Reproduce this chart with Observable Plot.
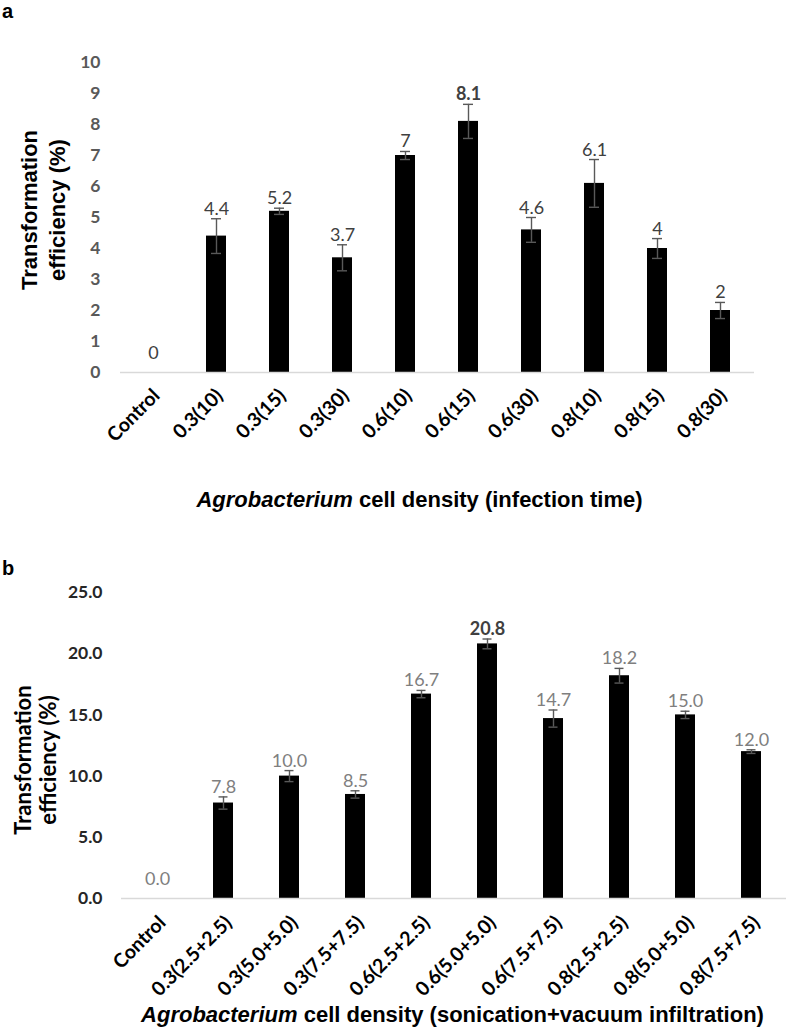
<!DOCTYPE html>
<html>
<head>
<meta charset="utf-8">
<script src="https://cdn.jsdelivr.net/npm/d3@7"></script>
<script src="https://cdn.jsdelivr.net/npm/@observablehq/plot@0.6"></script>
<style>
  body { margin: 0; background: white; }
  #wrap { position: relative; width: 787px; height: 1028px; overflow: hidden; background: white; }
  .abs { position: absolute; }
  .plabel { font-family: "Liberation Sans", Arial, sans-serif; font-weight: bold; font-size: 20px; line-height: 20px; color: black; }
  .xtitle { font-family: "Liberation Sans", Arial, sans-serif; font-weight: bold; font-size: 22px; line-height: 22px; color: black; width: 787px; text-align: center; white-space: nowrap; }
  .ytitle { font-weight: bold; color: black; width: 220px; text-align: center; white-space: nowrap; transform: rotate(-90deg); transform-origin: 50% 50%; }
</style>
</head>
<body>
<div id="wrap">
  <div id="panelA" class="abs" style="left:0;top:0"></div>
  <div id="panelB" class="abs" style="left:0;top:530px"></div>
  <div class="abs plabel" style="left:2px;top:1px">a</div>
  <div class="abs plabel" style="left:2px;top:558px">b</div>
  <div class="abs ytitle" style="left:-66px;top:182px;height:56px;font-family:'Liberation Sans',Arial,sans-serif;font-size:22px;line-height:28px">Transformation<br>efficiency (%)</div>
  <div class="abs ytitle" style="left:-75.5px;top:735px;height:50px;font-family:Lato,sans-serif;font-size:22px;line-height:25px">Transformation<br>efficiency (%)</div>
  <div class="abs xtitle" style="left:26px;top:489px"><i>Agrobacterium</i> cell density (infection time)</div>
  <div class="abs xtitle" style="left:59px;top:1004px"><i>Agrobacterium</i> cell density (sonication+vacuum infiltration)</div>
</div>
<script>
// ---- Panel a data ----
const categoriesA = ["Control","0.3(10)","0.3(15)","0.3(30)","0.6(10)","0.6(15)","0.6(30)","0.8(10)","0.8(15)","0.8(30)"];
const valuesA = [0, 4.4, 5.2, 3.7, 7, 8.1, 4.6, 6.1, 4, 2];
const errorsA = [0, 0.56, 0.1, 0.42, 0.13, 0.55, 0.4, 0.77, 0.32, 0.26];
const ticksA = [0,1,2,3,4,5,6,7,8,9,10];

// ---- Panel b data ----
const categoriesB = ["Control","0.3(2.5+2.5)","0.3(5.0+5.0)","0.3(7.5+7.5)","0.6(2.5+2.5)","0.6(5.0+5.0)","0.6(7.5+7.5)","0.8(2.5+2.5)","0.8(5.0+5.0)","0.8(7.5+7.5)"];
const valuesB = [0.0, 7.8, 10.0, 8.5, 16.7, 20.8, 14.7, 18.2, 15.0, 12.0];
const errorsB = [0, 0.5, 0.45, 0.3, 0.3, 0.4, 0.7, 0.6, 0.3, 0.15];
const ticksB = [0, 5, 10, 15, 20, 25];

function panel(o) {
  const data = o.cats.map((c, i) => ({cat: c, value: o.vals[i], err: o.errs[i]}));
  const withErr = data.filter(d => d.err > 0);
  const maxV = d3.max(o.vals);
  const numFont = "Lato, 'Open Sans', sans-serif";
  return Plot.plot({
    width: 787, height: o.height,
    marginTop: o.mt, marginBottom: o.mb, marginLeft: o.ml, marginRight: o.mr,
    style: {fontFamily: numFont, background: "transparent", overflow: "visible"},
    x: {domain: o.cats, paddingInner: o.pi, paddingOuter: o.po, label: null},
    y: {domain: o.ydomain, label: null},
    marks: [
      Plot.axisY({ticks: o.ticks, tickSize: 0, tickPadding: o.ytp, fontSize: 17.5, fontWeight: "bold",
                  fill: o.ytickColor, tickFormat: o.tickFmt, label: null, fontFamily: numFont}),
      Plot.axisX({tickSize: 0, tickRotate: -45, tickPadding: o.xtp, dx: o.xdx, fontSize: o.xfs,
                  fontWeight: "bold", fill: "black", label: null, fontFamily: numFont}),
      Plot.barY(data, {x: "cat", y: "value", fill: "black"}),
      Plot.ruleY([0], {stroke: "#d9d9d9", strokeWidth: 1.5}),
      Plot.ruleX(withErr, {x: "cat", y1: d => d.value - d.err, y2: d => d.value + d.err, stroke: "#595959", strokeWidth: 1.4}),
      Plot.tickY(withErr, {x: "cat", y: d => d.value + d.err, insetLeft: o.capInset, insetRight: o.capInset, stroke: "#595959", strokeWidth: 1.4}),
      Plot.tickY(withErr, {x: "cat", y: d => d.value - d.err, insetLeft: o.capInset, insetRight: o.capInset, stroke: "#595959", strokeWidth: 1.4}),
      Plot.text(data.filter(d => d.value !== maxV && d.value > 0), {x: "cat", y: d => d.value + d.err, text: d => o.fmt(d.value),
        lineAnchor: "bottom", dy: -4, fontSize: 18, fill: o.labelColor, fontFamily: numFont}),
      Plot.text(data.filter(d => d.value === 0), {x: "cat", y: "value", text: d => o.fmt(d.value),
        lineAnchor: "bottom", dy: -14, fontSize: 18, fill: o.labelColor, fontFamily: numFont}),
      Plot.text(data.filter(d => d.value === maxV), {x: "cat", y: d => d.value + d.err, text: d => o.fmt(d.value),
        lineAnchor: "bottom", dy: -4, fontSize: 18, fontWeight: "bold", fill: "#404040", fontFamily: numFont})
    ]
  });
}

document.getElementById("panelA").append(panel({
  cats: categoriesA, vals: valuesA, errs: errorsA, ticks: ticksA, ydomain: [0, 10],
  height: 480, mt: 62, mb: 108, ml: 120, mr: 33, pi: 0.68, po: 0.34,
  ytp: 20, xtp: 20, xdx: 3, xfs: 19.5, capInset: 5, ytickColor: "#595959", labelColor: "#404040",
  tickFmt: d => String(d), fmt: v => String(v)
}));

document.getElementById("panelB").append(panel({
  cats: categoriesB, vals: valuesB, errs: errorsB, ticks: ticksB, ydomain: [0, 25],
  height: 470, mt: 62, mb: 102, ml: 121, mr: 1, pi: 0.70, po: 0.35,
  ytp: 19, xtp: 21, xdx: 5, xfs: 19.5, capInset: 5.5, ytickColor: "#262626", labelColor: "#7f7f7f",
  tickFmt: d3.format(".1f"), fmt: d3.format(".1f")
}));
</script>
</body>
</html>
